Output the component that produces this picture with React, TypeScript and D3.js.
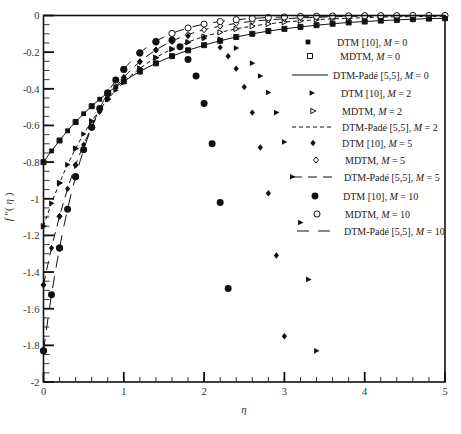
import * as d3 from 'd3'

// eta grid used by the Padé curves and DTM(M=0) points
const etaPade = [0, 0.1, 0.2, 0.3, 0.4, 0.5, 0.6, 0.7, 0.8, 0.9, 1.0, 1.2, 1.4, 1.6, 1.8, 2.0, 2.2, 2.4, 2.6, 2.8, 3.0, 3.2, 3.4, 3.6, 3.8, 4.0, 4.2, 4.4, 4.6, 4.8, 5.0]

const padeM0 = [-0.800, -0.739, -0.682, -0.629, -0.581, -0.536, -0.495, -0.457, -0.422, -0.389, -0.359, -0.306, -0.261, -0.222, -0.190, -0.162, -0.138, -0.117, -0.100, -0.085, -0.073, -0.062, -0.053, -0.045, -0.038, -0.033, -0.028, -0.024, -0.020, -0.017, -0.015]
const padeM2 = [-1.150, -1.025, -0.914, -0.814, -0.726, -0.647, -0.577, -0.514, -0.458, -0.408, -0.364, -0.289, -0.230, -0.183, -0.145, -0.115, -0.092, -0.073, -0.058, -0.046, -0.036, -0.029, -0.023, -0.018, -0.015, -0.012, -0.009, -0.007, -0.006, -0.005, -0.004]
const padeM5 = [-1.470, -1.269, -1.096, -0.946, -0.816, -0.705, -0.609, -0.525, -0.454, -0.391, -0.338, -0.252, -0.188, -0.140, -0.104, -0.078, -0.058, -0.043, -0.032, -0.024, -0.018, -0.013, -0.010, -0.007, -0.005, -0.004, -0.003, -0.002, -0.002, -0.001, -0.001]
const padeM10 = [-1.830, -1.524, -1.269, -1.057, -0.880, -0.733, -0.610, -0.508, -0.423, -0.352, -0.294, -0.204, -0.141, -0.098, -0.068, -0.047, -0.033, -0.023, -0.016, -0.011, -0.008, -0.005, -0.004, -0.003, -0.002, -0.001, -0.001, -0.001, 0, 0, 0]

// DTM [10] (truncated series, diverges for larger eta)
const dtmEtaM0 = [0, 0.1, 0.2, 0.3, 0.4, 0.5, 0.6, 0.7, 0.8, 0.9, 1.0, 1.2, 1.4, 1.6, 1.8, 2.0, 2.2, 2.4, 2.6, 2.8, 3.0, 3.2, 3.4, 3.6, 3.8, 4.0, 4.2, 4.4, 4.6, 4.8, 5.0]
const dtmM0 = [-0.800, -0.739, -0.682, -0.629, -0.581, -0.536, -0.495, -0.457, -0.422, -0.389, -0.359, -0.306, -0.261, -0.222, -0.190, -0.162, -0.138, -0.117, -0.100, -0.085, -0.073, -0.062, -0.053, -0.045, -0.038, -0.033, -0.028, -0.024, -0.020, -0.017, -0.015]
const dtmEtaM2 = [0, 0.1, 0.2, 0.3, 0.4, 0.5, 0.6, 0.7, 0.8, 0.9, 1.0, 1.2, 1.4, 1.6, 1.8, 2.0, 2.2, 2.4, 2.6, 2.7, 2.8, 2.9, 3.0, 3.1, 3.2, 3.3, 3.4]
const dtmM2 = [-1.150, -1.025, -0.914, -0.814, -0.726, -0.647, -0.577, -0.514, -0.458, -0.408, -0.364, -0.289, -0.230, -0.185, -0.148, -0.125, -0.128, -0.178, -0.260, -0.330, -0.420, -0.530, -0.690, -0.880, -1.130, -1.440, -1.830]
const dtmEtaM5 = [0, 0.1, 0.2, 0.3, 0.4, 0.5, 0.6, 0.7, 0.8, 0.9, 1.0, 1.2, 1.4, 1.6, 1.8, 2.0, 2.2, 2.3, 2.4, 2.5, 2.6, 2.7, 2.8, 2.9, 3.0]
const dtmM5 = [-1.470, -1.269, -1.096, -0.946, -0.816, -0.705, -0.609, -0.525, -0.454, -0.391, -0.338, -0.252, -0.188, -0.142, -0.112, -0.120, -0.174, -0.222, -0.290, -0.390, -0.530, -0.720, -0.970, -1.310, -1.750]
const dtmEtaM10 = [0, 0.1, 0.2, 0.3, 0.4, 0.5, 0.6, 0.7, 0.8, 0.9, 1.0, 1.2, 1.4, 1.6, 1.7, 1.8, 1.9, 2.0, 2.1, 2.2, 2.3]
const dtmM10 = [-1.830, -1.524, -1.269, -1.057, -0.880, -0.733, -0.610, -0.508, -0.423, -0.352, -0.294, -0.205, -0.145, -0.135, -0.170, -0.240, -0.330, -0.480, -0.700, -1.020, -1.490]

// MDTM
const mdtmEta = [0, 0.2, 0.4, 0.6, 0.8, 1.0, 1.2, 1.4, 1.6, 1.8, 2.0, 2.2, 2.4, 2.6, 2.8, 3.0, 3.2, 3.4, 3.6, 3.8, 4.0, 4.2, 4.4, 4.6, 4.8, 5.0]
const mdtmM0 = [-0.800, -0.682, -0.581, -0.495, -0.422, -0.359, -0.306, -0.261, -0.222, -0.190, -0.162, -0.138, -0.117, -0.100, -0.085, -0.073, -0.062, -0.053, -0.045, -0.038, -0.033, -0.028, -0.024, -0.020, -0.017, -0.015]
const mdtmM2 = [-1.150, -0.914, -0.726, -0.577, -0.458, -0.364, -0.289, -0.230, -0.183, -0.145, -0.115, -0.092, -0.073, -0.058, -0.046, -0.036, -0.029, -0.023, -0.018, -0.015, -0.012, -0.009, -0.007, -0.006, -0.005, -0.004]
const mdtmM5 = [-1.470, -1.096, -0.816, -0.609, -0.454, -0.338, -0.252, -0.188, -0.140, -0.104, -0.078, -0.058, -0.043, -0.032, -0.024, -0.018, -0.013, -0.010, -0.007, -0.005, -0.004, -0.003, -0.002, -0.002, -0.001, -0.001]
const mdtmM10 = [-1.830, -1.269, -0.880, -0.610, -0.423, -0.294, -0.204, -0.141, -0.098, -0.068, -0.047, -0.033, -0.023, -0.016, -0.011, -0.008, -0.005, -0.004, -0.003, -0.002, -0.001, -0.001, -0.001, 0, 0, 0]

const xTicks = [0, 1, 2, 3, 4, 5]
const xTickLabels = ['0', '1', '2', '3', '4', '5']
const yTicks = [0, -0.2, -0.4, -0.6, -0.8, -1, -1.2, -1.4, -1.6, -1.8, -2]
const yTickLabels = ['0', '-0.2', '-0.4', '-0.6', '-0.8', '-1', '-1.2', '-1.4', '-1.6', '-1.8', '-2']

const mValues = ['0', '2', '5', '10']

const W = 461
const H = 434
const FONT = '"Liberation Serif", "Times New Roman", serif'

const x = d3.scaleLinear().domain([0, 5]).range([43.5, 445])
const y = d3.scaleLinear().domain([-2, 0]).range([382, 15.5])

type Shape = 'square' | 'triangle' | 'diamond' | 'circle'

const shapePath: Record<Shape, string> = {
  square: 'M-2.4,-2.4H2.4V2.4H-2.4Z',
  triangle: 'M-2.4,-2.8L3,0L-2.4,2.8Z',
  diamond: 'M0,-3.2L2.6,0L0,3.2L-2.6,0Z',
  circle: d3.symbol(d3.symbolCircle, 38)() as string,
}
const openPath: Record<Shape, string> = {
  square: 'M-2.5,-2.5H2.5V2.5H-2.5Z',
  triangle: 'M-2.2,-2.6L2.8,0L-2.2,2.6Z',
  diamond: 'M0,-3L2.5,0L0,3L-2.5,0Z',
  circle: d3.symbol(d3.symbolCircle, 30)() as string,
}

const series = [
  { shape: 'square' as Shape, dash: 'none', pade: padeM0, dtmEta: dtmEtaM0, dtm: dtmM0, mdtm: mdtmM0 },
  { shape: 'triangle' as Shape, dash: '4,3', pade: padeM2, dtmEta: dtmEtaM2, dtm: dtmM2, mdtm: mdtmM2 },
  { shape: 'diamond' as Shape, dash: '9,6', pade: padeM5, dtmEta: dtmEtaM5, dtm: dtmM5, mdtm: mdtmM5 },
  { shape: 'circle' as Shape, dash: '12,9', pade: padeM10, dtmEta: dtmEtaM10, dtm: dtmM10, mdtm: mdtmM10 },
]

// legend layout: rows in the order DTM, MDTM, Padé for each M
const legendY = [42, 56, 75, 93, 111, 127, 143, 160, 177, 196, 214, 231]
const legendSymX = [[308, 310], [312, 313], [313, 316], [315, 317]]
const legendTextX = [[337, 340, 333], [341, 342, 342], [342, 345, 344], [343, 345, 344]]
const legendLineX = [[292, 328], [292, 333], [293, 337], [297, 337]]
const methodLabels = ['DTM [10], ', 'MDTM, ', 'DTM-Padé [5,5], ']

export default function App() {
  const line = d3.line<number>()
    .x((_, i) => x(etaPade[i]))
    .y(d => y(d))
    .curve(d3.curveMonotoneX)

  const yMinor = d3.range(0, 41).map(i => -i * 0.05)
  const xMinor = d3.range(0, 26).map(i => i * 0.2)

  return (
    <svg width={W} height={H} style={{ position: 'absolute', left: 0, top: 0, background: '#fff' }}
      fontFamily={FONT}>
      <rect width={W} height={H} fill="#fff" />

      {/* minor ticks */}
      {yMinor.map((v, i) => (
        <line key={'ym' + i} x1={x(0)} x2={x(0) + 6} y1={y(v)} y2={y(v)} stroke="#222" strokeWidth={0.9} />
      ))}
      {xMinor.map((v, i) => (
        <line key={'xm' + i} x1={x(v)} x2={x(v)} y1={y(-2)} y2={y(-2) - 5} stroke="#222" strokeWidth={0.9} />
      ))}
      {/* major ticks */}
      {yTicks.map((v, i) => (
        <line key={'yM' + i} x1={x(0)} x2={x(0) + 10.5} y1={y(v)} y2={y(v)} stroke="#111" strokeWidth={1.8} />
      ))}
      {xTicks.map((v, i) => (
        <line key={'xM' + i} x1={x(v)} x2={x(v)} y1={y(-2)} y2={y(-2) - 10} stroke="#111" strokeWidth={1.8} />
      ))}
      {yTicks.map((v, i) => (
        <text key={'yl' + i} x={39.5} y={y(v) + 3.8} textAnchor="end" fontSize={10.5} fill="#333">{yTickLabels[i]}</text>
      ))}
      {xTicks.map((v, i) => (
        <text key={'xl' + i} x={x(v)} y={395} textAnchor="middle" fontSize={10.5} fill="#333">{xTickLabels[i]}</text>
      ))}

      {/* Padé curves */}
      {series.map((s, i) => (
        <path key={'p' + i} d={line(s.pade) as string} fill="none" stroke="#111" strokeWidth={1}
          strokeDasharray={s.dash === 'none' ? undefined : s.dash} />
      ))}
      {/* MDTM open markers */}
      {series.map((s, i) => s.mdtm.map((v, j) => (
        <path key={'o' + i + '-' + j} d={openPath[s.shape]} transform={`translate(${x(mdtmEta[j])},${y(v)})`}
          fill="#fff" stroke="#111" strokeWidth={1} />
      )))}
      {/* DTM filled markers */}
      {series.map((s, i) => s.dtm.map((v, j) => (
        <path key={'f' + i + '-' + j} d={shapePath[s.shape]} transform={`translate(${x(s.dtmEta[j])},${y(v)})`}
          fill="#111" />
      )))}

      {/* frame */}
      <rect x={x(0)} y={y(0)} width={x(5) - x(0)} height={y(-2) - y(0)} fill="none" stroke="#111" strokeWidth={1.6} />

      {/* legend */}
      {series.map((s, i) => (
        <g key={'lg' + i} fontSize={10} fill="#222">
          <path d={shapePath[s.shape]} transform={`translate(${legendSymX[i][0]},${legendY[i * 3]})`} fill="#111" />
          <path d={openPath[s.shape]} transform={`translate(${legendSymX[i][1]},${legendY[i * 3 + 1]})`} fill="#fff" stroke="#111" />
          <line x1={legendLineX[i][0]} x2={legendLineX[i][1]} y1={legendY[i * 3 + 2]} y2={legendY[i * 3 + 2]}
            stroke="#111" strokeWidth={1} strokeDasharray={s.dash === 'none' ? undefined : s.dash} />
          {methodLabels.map((lab, k) => (
            <text key={k} x={legendTextX[i][k]} y={legendY[i * 3 + k] + 3.5}>
              {lab}<tspan fontStyle="italic">M</tspan>{' = ' + mValues[i]}
            </text>
          ))}
        </g>
      ))}

      {/* axis titles */}
      <text x={244} y={413} fontSize={11} fontStyle="italic" textAnchor="middle" fill="#333">η</text>
      <text transform="translate(12,207) rotate(-90)" fontSize={11} textAnchor="middle" fill="#333">
        <tspan fontStyle="italic">f</tspan>{' ″( '}<tspan fontStyle="italic">η</tspan>{' )'}
      </text>
    </svg>
  )
}
